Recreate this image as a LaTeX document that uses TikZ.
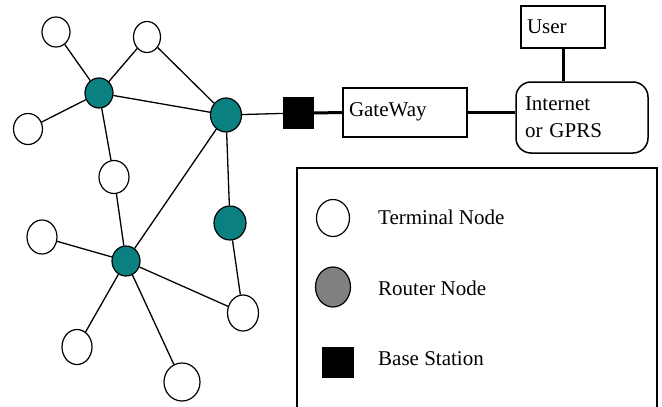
\documentclass[tikz,border=0pt]{standalone}
\usepackage{fontspec}
\setmainfont{Liberation Serif}
\usetikzlibrary{shapes.geometric}
\definecolor{routerteal}{RGB}{10,128,128}
\definecolor{legendgray}{RGB}{128,128,128}
\begin{document}
\begin{tikzpicture}[x=1pt,y=-1pt,
  term/.style={ellipse, draw, line width=1.2pt, fill=white, inner sep=0pt},
  router/.style={ellipse, draw, line width=1.2pt, fill=routerteal, inner sep=0pt},
  bstation/.style={rectangle, draw, fill=black, inner sep=0pt},
  edge/.style={line width=1.3pt},
  link/.style={line width=3pt},
  box/.style={rectangle, draw, line width=1.5pt, inner sep=0pt},
  txt/.style={font=\fontsize{21}{27}\selectfont, inner sep=0pt}]
\clip (0,0) rectangle (662,407);
\fill[white] (0,0) rectangle (662,407);
% network nodes
\node[term, minimum width=28pt, minimum height=30pt] (t1) at (56,32) {};
\node[term, minimum width=27pt, minimum height=31pt] (t2) at (147,37) {};
\node[router, minimum width=28pt, minimum height=30pt] (r1) at (99,93) {};
\node[term, minimum width=29pt, minimum height=31pt] (t3) at (28,129) {};
\node[router, minimum width=31pt, minimum height=34pt] (r2) at (226,115) {};
\node[term, minimum width=30pt, minimum height=33pt] (t4) at (114,177) {};
\node[router, minimum width=32pt, minimum height=34pt] (r3) at (230,223) {};
\node[term, minimum width=30pt, minimum height=34pt] (t5) at (42,237) {};
\node[router, minimum width=28pt, minimum height=30pt] (r4) at (126,261) {};
\node[term, minimum width=31pt, minimum height=36pt] (t6) at (243,313) {};
\node[term, minimum width=30pt, minimum height=35pt] (t7) at (77,347) {};
\node[term, minimum width=36pt, minimum height=38pt] (t8) at (182,382) {};
\node[bstation, minimum width=30pt, minimum height=31pt] (bs) at (298,113) {};
% network edges
\draw[edge] (t1) -- (r1);
\draw[edge] (t2) -- (r1);
\draw[edge] (t2) -- (r2);
\draw[edge] (t3) -- (r1);
\draw[edge] (r1) -- (r2);
\draw[edge] (r1) -- (t4);
\draw[edge] (r2) -- (r4);
\draw[edge] (r2) -- (r3);
\draw[edge] (r2) -- (bs);
\draw[edge] (t4) -- (r4);
\draw[edge] (t5) -- (r4);
\draw[edge] (r4) -- (t6);
\draw[edge] (r3) -- (t6);
\draw[edge] (r4) -- (t7);
\draw[edge] (r4) -- (t8);
% gateway, internet, user
\node[box, txt, minimum width=124pt, minimum height=49pt, text width=112pt, inner xsep=6pt, align=left] (gw) at (405,112.5) {\raisebox{6pt}{GateWay}};
\node[box, txt, rounded corners=15pt, minimum width=132pt, minimum height=71pt, text width=114pt, inner xsep=9pt, align=left] (inet) at (582,117.5) {Internet\\or GPRS};
\node[box, txt, minimum width=84pt, minimum height=42pt, text width=72pt, inner xsep=6pt, align=left] (user) at (563,27) {User};
\draw[link] (bs.east) -- (gw.west);
\draw[link] (gw.east) -- (gw.east -| inet.west);
\draw[link] (user.south) -- (user.south |- inet.north);
% legend
\node[box, line width=1.3pt, minimum width=360pt, minimum height=250pt] (legend) at (477,293) {};
\node[term, minimum width=33pt, minimum height=37pt] (lt) at (333,218) {};
\node[router, fill=legendgray, minimum width=35pt, minimum height=40pt] (lr) at (333,287) {};
\node[bstation, minimum width=31pt, minimum height=30pt] (lb) at (337.5,362) {};
\node[txt, anchor=west] (ltt) at (378,217) {Terminal Node};
\node[txt, anchor=west] (lrt) at (378,288) {Router Node};
\node[txt, anchor=west] (lbt) at (378,359) {Base Station};
\end{tikzpicture}
\end{document}
